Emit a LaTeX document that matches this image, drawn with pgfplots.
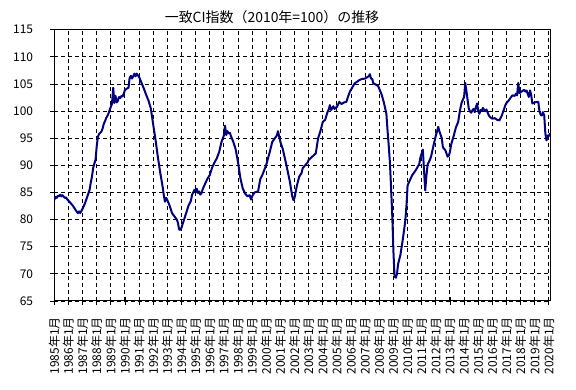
\documentclass[border=0pt]{standalone}
\usepackage{fontspec}
\setmainfont{Noto Sans CJK JP}
\usepackage{pgfplots}
\pgfplotsset{compat=1.18}
\definecolor{cinavy}{RGB}{0,0,128}
\begin{document}
\begin{tikzpicture}
\useasboundingbox (0,0) rectangle (576bp,390bp);
\begin{axis}[
  at={(54.3bp,89bp)}, anchor=south west,
  scale only axis, width=496bp, height=271.3bp,
  xmin=1985, xmax=2020.1, ymin=65, ymax=115,
  xtick={1985,...,2020}, ytick={65,70,...,115},
  xticklabel={\pgfmathparse{int(round(\tick))}\pgfmathresult 年1月},
  /pgf/number format/assume math mode=true,
  tick label style={font=\fontsize{12}{14}\selectfont},
  xticklabel style={rotate=90, anchor=east, inner sep=0pt},
  xticklabel shift=12bp,
  yticklabel style={anchor=east, inner sep=0pt},
  yticklabel shift=17bp,
  xtick pos=bottom, ytick pos=left,
  tick align=center, major tick length=8bp,
  tick style={black, line width=0.8bp},
  axis line style={black, line width=1bp},
  xmajorgrids=true, ymajorgrids=true,
  grid style={black, line width=0.9bp, dash pattern=on 4bp off 3bp},
  major grid style={black, line width=0.9bp, dash pattern=on 4bp off 3bp},
]
\addplot[cinavy, line width=2bp, line join=round] table {
x y
1985.00 83.6
1985.08 84.2
1985.17 84.0
1985.25 84.4
1985.33 84.3
1985.42 84.6
1985.50 84.3
1985.58 84.5
1985.67 84.2
1985.75 84.0
1985.83 84.1
1985.92 83.7
1986.00 83.5
1986.17 83.0
1986.33 82.5
1986.50 81.8
1986.58 81.5
1986.67 81.2
1986.75 81.5
1986.83 81.2
1986.92 81.6
1987.00 82.0
1987.17 83.0
1987.33 84.2
1987.50 85.5
1987.58 86.8
1987.67 88.0
1987.75 89.5
1987.83 90.3
1987.92 91.0
1988.00 93.5
1988.08 95.2
1988.17 95.8
1988.33 96.2
1988.42 96.8
1988.50 97.6
1988.58 98.1
1988.67 98.7
1988.83 99.5
1988.92 100.2
1989.00 100.8
1989.08 101.3
1989.17 104.3
1989.25 101.5
1989.33 102.8
1989.42 101.6
1989.50 101.9
1989.58 102.6
1989.67 102.4
1989.75 102.8
1989.83 102.7
1989.92 103.2
1990.00 103.9
1990.17 104.2
1990.25 104.3
1990.33 106.1
1990.42 106.5
1990.50 106.0
1990.58 106.4
1990.67 106.9
1990.75 106.4
1990.83 106.9
1991.00 106.3
1991.17 105.2
1991.33 104.2
1991.50 103.0
1991.67 101.9
1991.83 100.5
1992.00 97.5
1992.17 94.6
1992.33 91.5
1992.50 88.6
1992.67 86.0
1992.75 84.5
1992.83 83.3
1992.92 84.0
1993.00 83.6
1993.17 82.5
1993.33 81.2
1993.50 80.6
1993.67 80.0
1993.75 79.4
1993.83 78.2
1993.92 78.1
1994.00 78.5
1994.17 79.9
1994.33 81.2
1994.50 82.6
1994.67 83.5
1994.75 84.6
1994.83 85.0
1994.92 85.5
1995.00 85.2
1995.08 85.7
1995.17 84.9
1995.25 85.2
1995.33 84.6
1995.42 84.9
1995.50 85.6
1995.67 86.6
1995.83 87.5
1996.00 88.2
1996.17 89.6
1996.33 90.5
1996.50 91.3
1996.67 92.5
1996.83 94.3
1997.00 95.5
1997.08 97.3
1997.17 95.6
1997.25 96.3
1997.33 95.9
1997.42 96.0
1997.50 95.4
1997.67 94.3
1997.83 93.0
1998.00 90.6
1998.17 87.6
1998.33 85.8
1998.50 84.8
1998.67 84.3
1998.83 84.5
1998.92 83.7
1999.00 84.3
1999.17 85.0
1999.42 85.2
1999.58 87.5
1999.75 88.4
2000.00 90.1
2000.25 92.5
2000.42 94.3
2000.58 94.9
2000.75 95.5
2000.83 96.3
2001.00 94.3
2001.17 93.0
2001.42 90.1
2001.67 87.0
2001.83 84.4
2001.92 83.6
2002.00 84.0
2002.17 86.3
2002.33 87.9
2002.50 88.6
2002.58 89.5
2002.75 90.0
2002.92 90.5
2003.00 91.0
2003.25 91.6
2003.50 92.2
2003.58 93.5
2003.67 95.0
2003.83 96.3
2004.00 98.0
2004.17 98.4
2004.33 99.8
2004.42 100.3
2004.50 101.1
2004.58 100.2
2004.67 100.5
2004.75 100.9
2004.83 100.4
2005.00 100.8
2005.17 101.7
2005.33 101.3
2005.50 101.6
2005.67 101.7
2005.75 102.4
2005.92 103.6
2006.08 104.3
2006.25 105.1
2006.42 105.4
2006.58 105.7
2006.75 105.9
2007.00 106.0
2007.17 106.3
2007.25 106.4
2007.33 106.8
2007.42 106.0
2007.50 105.9
2007.58 105.1
2007.75 104.9
2007.92 104.6
2008.17 103.0
2008.33 101.5
2008.50 99.5
2008.58 96.5
2008.67 93.5
2008.75 90.5
2008.83 86.0
2008.92 80.5
2009.00 74.0
2009.08 69.5
2009.17 69.3
2009.25 70.0
2009.33 71.8
2009.50 73.6
2009.67 76.5
2009.83 79.6
2009.92 82.5
2010.00 86.3
2010.17 87.3
2010.33 88.2
2010.50 88.8
2010.67 89.5
2010.83 90.3
2010.92 91.6
2011.00 92.2
2011.08 92.9
2011.17 88.8
2011.25 85.4
2011.33 88.0
2011.42 90.2
2011.58 91.0
2011.67 91.7
2011.83 93.6
2012.00 95.5
2012.08 96.2
2012.17 97.1
2012.25 96.3
2012.42 95.0
2012.50 93.3
2012.67 92.8
2012.83 91.6
2012.92 91.8
2013.00 92.5
2013.08 93.8
2013.25 95.3
2013.42 97.0
2013.58 98.0
2013.67 99.5
2013.75 100.7
2013.83 101.6
2014.00 102.6
2014.08 105.2
2014.17 103.6
2014.25 102.0
2014.33 100.5
2014.42 99.9
2014.50 99.7
2014.58 100.1
2014.67 100.4
2014.75 99.8
2014.83 100.7
2014.92 101.4
2015.00 100.0
2015.08 99.5
2015.17 100.2
2015.25 100.0
2015.33 100.6
2015.42 100.2
2015.50 100.0
2015.58 100.3
2015.67 99.7
2015.75 99.2
2015.83 98.9
2016.00 98.6
2016.17 98.7
2016.33 98.4
2016.50 98.3
2016.67 99.2
2016.83 100.4
2016.92 101.1
2017.00 101.5
2017.17 102.0
2017.33 102.6
2017.42 102.9
2017.58 102.8
2017.67 103.2
2017.75 102.9
2017.83 105.2
2017.92 103.3
2018.00 103.5
2018.08 103.6
2018.17 103.8
2018.25 103.9
2018.33 103.6
2018.42 103.8
2018.50 103.2
2018.58 102.6
2018.67 103.8
2018.75 102.9
2018.83 101.4
2018.92 101.5
2019.00 101.6
2019.17 101.7
2019.25 101.7
2019.33 100.0
2019.42 99.3
2019.50 99.2
2019.58 99.8
2019.67 99.2
2019.75 95.9
2019.83 94.6
2019.92 95.5
2020.00 95.4
2020.08 95.9
};
\end{axis}
\node[font=\fontsize{14}{16}\selectfont] at (272bp,373bp) {一致CI指数（2010年=100）の推移};
\end{tikzpicture}
\end{document}
